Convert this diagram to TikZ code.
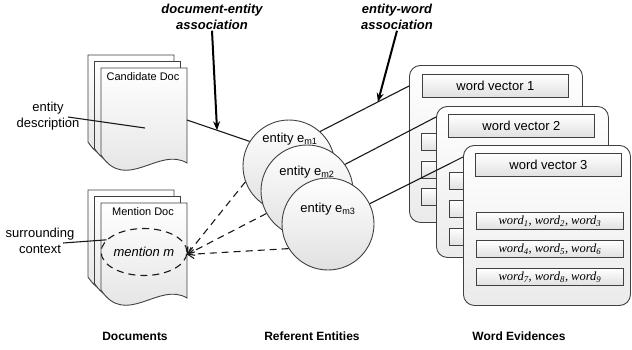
\documentclass[tikz,border=0pt]{standalone}
\usepackage{fontspec}
\setmainfont{Liberation Sans}
\newfontfamily\wordfont{Liberation Serif}
\usetikzlibrary{arrows.meta,calc,shapes.geometric}
\begin{document}
\begin{tikzpicture}[x=1pt,y=-1pt,
  conn/.style={draw=black!90, line width=1.1pt},
  dline/.style={draw=black!90, line width=1.1pt, dash pattern=on 7pt off 5pt, -{Straight Barb[length=6pt,width=9pt,line width=1.1pt]}},
  callout/.style={draw=black, line width=2pt, -{Stealth[length=9pt,width=7pt]}},
  pagestyle/.style={draw=black!75, line width=0.9pt, top color=white, bottom color=black!12},
  entity/.style={circle, draw=black!75, line width=0.9pt, minimum size=92pt, inner sep=0pt, top color=white, bottom color=black!12},
  panel/.style={rectangle, rounded corners=11pt, draw=black!75, line width=0.9pt, top color=white, bottom color=black!8, anchor=north west, inner sep=0pt},
  vbox/.style={rectangle, draw=black!75, line width=0.9pt, top color=white, bottom color=black!12, anchor=north west, minimum width=146pt, minimum height=23pt, inner sep=0pt, font=\fontsize{13}{15}\selectfont},
  wbox/.style={rectangle, draw=black!75, line width=0.9pt, top color=white, bottom color=black!12, anchor=north west, minimum width=147pt, minimum height=17pt, inner sep=0pt, font=\wordfont\itshape\fontsize{12.5}{14}\selectfont},
  sbox/.style={rectangle, draw=black!75, line width=0.9pt, top color=white, bottom color=black!12, anchor=north west, minimum width=147pt, minimum height=17pt, inner sep=0pt},
  lbl/.style={font=\fontsize{13}{16}\selectfont, align=center, inner sep=0pt},
  bottomlbl/.style={font=\bfseries\fontsize{12}{14}\selectfont, inner sep=0pt},
  toplbl/.style={font=\bfseries\itshape\fontsize{13}{15.5}\selectfont, align=center, inner sep=1pt},
  doctitle/.style={font=\fontsize{11}{13}\selectfont, inner sep=0pt},
  docpage/.pic={\path[pagestyle] (0,0) -- (86,0) -- (86,95) .. controls (58,78) and (25,125) .. (0,87) -- cycle;}
]
\useasboundingbox (0,0) rectangle (632,349);

% ---------- documents ----------
\pic at (88,55) {docpage};
\pic at (94.5,61.5) {docpage};
\pic at (101,68) {docpage};
\node[doctitle] (candt) at (143,77) {Candidate Doc};

\pic at (88,190) {docpage};
\pic at (94.5,196.5) {docpage};
\pic at (101,203) {docpage};
\node[doctitle] (mentt) at (143,212) {Mention Doc};

\node[ellipse, draw=black!90, line width=1.1pt, dash pattern=on 7pt off 5pt, minimum width=78pt, minimum height=47pt, inner sep=0pt, font=\itshape\fontsize{13}{15}\selectfont] (ment) at (144,252) {mention m};

\node[lbl] (edesc) at (48,116) {entity\\description};
\node[lbl] (sctx) at (40,241) {surrounding\\context};
\coordinate (edA) at (68,117);
\coordinate (edB) at (145,128);
\draw[conn] (edA) -- (edB);
\coordinate (scA) at (63,243);
\draw[conn] (scA) -- (ment.162);

% ---------- entities ----------
\node[entity] (c1) at (289,166) {};
\node[lbl] (t1) at (290,139) {entity e\textsubscript{m1}};
\node[entity] (c2) at (307,191) {};
\node[lbl] (t2) at (307,172) {entity e\textsubscript{m2}};
\node[entity] (c3) at (328,224) {};
\node[lbl] (t3) at (328,209) {entity e\textsubscript{m3}};

% ---------- panels ----------
\node[panel, minimum width=173pt, minimum height=157pt] (p1) at (409,65) {};
\node[vbox] (v1) at ($(p1.north west)+(13,9)$) {word vector 1};
\node[sbox] (p1a) at ($(p1.north west)+(12,68)$) {};
\node[sbox] (p1b) at ($(p1.north west)+(12,95.5)$) {};
\node[sbox] (p1c) at ($(p1.north west)+(12,123)$) {};

\node[panel, minimum width=172pt, minimum height=151pt] (p2) at (436,106) {};
\node[vbox] (v2) at ($(p2.north west)+(12,8)$) {word vector 2};
\node[sbox] (p2a) at ($(p2.north west)+(13,66)$) {};
\node[sbox] (p2b) at ($(p2.north west)+(13,94)$) {};
\node[sbox] (p2c) at ($(p2.north west)+(13,122)$) {};

\node[panel, minimum width=167pt, minimum height=160pt] (p3) at (463,145) {};
\node[vbox] (v3) at ($(p3.north west)+(12,8)$) {word vector 3};
\node[wbox] (w1) at ($(p3.north west)+(13,67)$) {word\textsubscript{1}, word\textsubscript{2}, word\textsubscript{3}};
\node[wbox] (w2) at ($(p3.north west)+(13,95)$) {word\textsubscript{4}, word\textsubscript{5}, word\textsubscript{6}};
\node[wbox] (w3) at ($(p3.north west)+(13,123)$) {word\textsubscript{7}, word\textsubscript{8}, word\textsubscript{9}};

% ---------- connectors ----------
\coordinate (candR) at (187,120);
\draw[conn] (candR) -- coordinate[pos=0.48] (de) (c1.148);
\draw[conn] (c1.48) -- coordinate[pos=0.65] (ewp) ($(p1.north west)+(0,21)$);
\draw[conn] (c2.35) -- ($(p2.north west)+(0,11)$);
\draw[conn] (c3.26) -- ($(p3.north west)+(0,12)$);

\coordinate (mtip) at (187,254.5);
\draw[dline] (c1.200) -- (mtip);
\draw[dline] (c2.209) -- (mtip);
\draw[dline] (c3.212) -- (mtip);

% ---------- callouts ----------
\node[toplbl] (dea) at (212,17) {document-entity\\association};
\node[toplbl] (ewa) at (397,17) {entity-word\\association};
\draw[callout] (dea.south) -- (de);
\draw[callout] (ewa.south) -- (ewp);

% ---------- bottom labels ----------
\node[bottomlbl] (ldoc) at (135,336) {Documents};
\node[bottomlbl] (lent) at (312,336) {Referent Entities};
\node[bottomlbl] (lwrd) at (519,336) {Word Evidences};
\end{tikzpicture}
\end{document}
